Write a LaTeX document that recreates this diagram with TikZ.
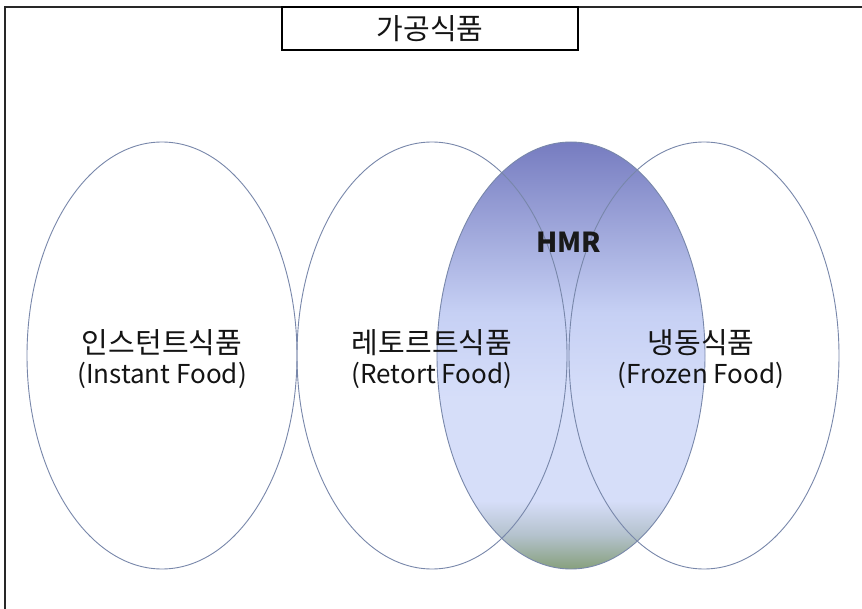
\documentclass[tikz,border=0pt]{standalone}
\usepackage{fontspec}
\setmainfont{Noto Sans CJK KR}
\usetikzlibrary{shapes.geometric}
\definecolor{hmrgreen}{RGB}{135,160,125}
\definecolor{hmrmid}{RGB}{180,194,205}
\definecolor{hmrlight}{RGB}{214,222,249}
\definecolor{hmrlight2}{RGB}{198,208,244}
\definecolor{hmrtop}{RGB}{118,124,192}
\definecolor{ellcol}{RGB}{120,135,170}
\definecolor{framecol}{RGB}{40,40,40}
\definecolor{txtcol}{RGB}{20,20,20}
\pgfdeclareverticalshading{hmrshade}{100bp}{color(0bp)=(hmrgreen); color(25bp)=(hmrgreen); color(29bp)=(hmrmid); color(33bp)=(hmrlight); color(45bp)=(hmrlight); color(55bp)=(hmrlight2); color(75bp)=(hmrtop); color(100bp)=(hmrtop)}
\newcommand{\kr}[1]{{\fontsize{29}{30}\selectfont #1}}
\begin{document}
\begin{tikzpicture}[x=1pt,y=-1pt,
  venn/.style={ellipse, draw=ellcol, line width=0.9pt, minimum width=270pt,
    minimum height=427pt, inner sep=0pt},
  lbl/.style={align=center, text=txtcol, inner sep=0pt,
    font=\fontsize{26}{30.5}\selectfont},
  titlebox/.style={draw=black, line width=1.4pt, minimum width=296pt,
    minimum height=43pt, inner sep=0pt, text=txtcol,
    font=\fontsize{29}{32}\selectfont},
  hmrtext/.style={text=black!90, font=\fontsize{27.5}{30}\selectfont\bfseries}
]
\useasboundingbox (0,0) rectangle (862,609);
\fill[white] (0,0) rectangle (862,609);
\draw[framecol, line width=2pt] (5,612) -- (5,7) -- (865,7);
\shade[shading=hmrshade] (571,355.5) ellipse [x radius=134, y radius=213.5];
\node[venn] (inst) at (162,355.5) {};
\node[venn] (ret) at (432,355.5) {};
\node[venn] (froz) at (704,355.5) {};
\node[venn, minimum width=268pt] (hmr) at (571,355.5) {};
\node[lbl] (instlbl) at (162,359) {\kr{인스턴트식품}\\(Instant Food)};
\node[lbl] (retlbl) at (432,359) {\kr{레토르트식품}\\(Retort Food)};
\node[lbl] (frozlbl) at (701,359) {\kr{냉동식품}\\(Frozen Food)};
\node[hmrtext] (hmrlabel) at (569,242) {HMR};
\node[titlebox] (title) at (430,28.5) {가공식품};
\end{tikzpicture}
\end{document}
